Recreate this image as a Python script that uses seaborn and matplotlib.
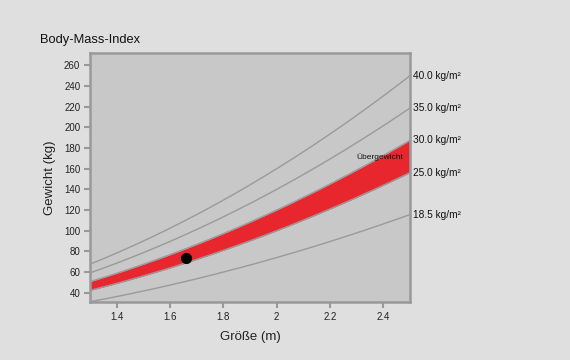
import numpy as np
import pandas as pd
import matplotlib
matplotlib.use("Agg")
import matplotlib.pyplot as plt
import seaborn as sns

# Data
heights = [1.30, 1.40, 1.50, 1.60, 1.70, 1.80, 1.90, 2.00, 2.10, 2.20, 2.30, 2.40, 2.50]
bmi_levels = [18.5, 25.0, 30.0, 35.0, 40.0]
bmi_labels = ["18.5 kg/m²", "25.0 kg/m²", "30.0 kg/m²", "35.0 kg/m²", "40.0 kg/m²"]
band_low, band_high = 25.0, 30.0
band_label = "Übergewicht"
person_height = [1.66]
person_weight = [73.5]
x_ticks = [1.4, 1.6, 1.8, 2.0, 2.2, 2.4]
x_ticklabels = ["1.4", "1.6", "1.8", "2", "2.2", "2.4"]
y_ticks = [40, 60, 80, 100, 120, 140, 160, 180, 200, 220, 240, 260]

sns.set_theme(style="white")
plt.rcParams["font.family"] = ["Liberation Sans", "DejaVu Sans"]

fig_bg = "#dfdfdf"
ax_bg = "#c8c8c8"
line_col = "#9a9a9a"
spine_col = "#999999"
red = "#e8262e"

fig = plt.figure(figsize=(5.7, 3.6), dpi=100, facecolor=fig_bg)
ax = fig.add_axes([90/570, 1 - 302/360, 320/570, 249/360])
ax.set_facecolor(ax_bg)

hf = np.linspace(heights[0], heights[-1], 200)
ax.fill_between(hf, band_low * hf ** 2, band_high * hf ** 2, color=red, lw=0, zorder=2)

for b in bmi_levels:
    sub = pd.DataFrame({"height": hf, "weight": b * hf ** 2})
    sns.lineplot(data=sub, x="height", y="weight", ax=ax, color=line_col, lw=1.0, zorder=3)

sns.scatterplot(x=person_height, y=person_weight, ax=ax, color="black", s=55,
                edgecolor="black", zorder=5)

ax.set_xlim(1.3, 2.5)
ax.set_ylim(31, 272)
ax.set_xticks(x_ticks)
ax.set_xticklabels(x_ticklabels)
ax.set_yticks(y_ticks)
ax.tick_params(axis="both", direction="out", length=4, width=1.5, color=spine_col,
               labelsize=7, labelcolor="#222222", pad=3, left=True, bottom=True)
for s in ax.spines.values():
    s.set_color(spine_col)
    s.set_linewidth(1.8)

ax.set_xlabel("Größe (m)", fontsize=9.5, color="#222222", labelpad=7)
ax.set_ylabel("Gewicht (kg)", fontsize=9.5, color="#222222", labelpad=6)

for b, lab in zip(bmi_levels, bmi_labels):
    ax.annotate(lab, xy=(2.5, b * 2.5 ** 2), xytext=(2, 0), textcoords="offset points",
                fontsize=7.3, color="#111111", va="center", ha="left", annotation_clip=False)

ax.text(2.386, 171.5, band_label, fontsize=6, color="#111111", ha="center", va="center", zorder=6)

fig.text(40/570, 1 - 40/360, "Body-Mass-Index", fontsize=9.3, color="#111111", ha="left", va="center")

fig.savefig("out.png", dpi=100, facecolor=fig_bg)
